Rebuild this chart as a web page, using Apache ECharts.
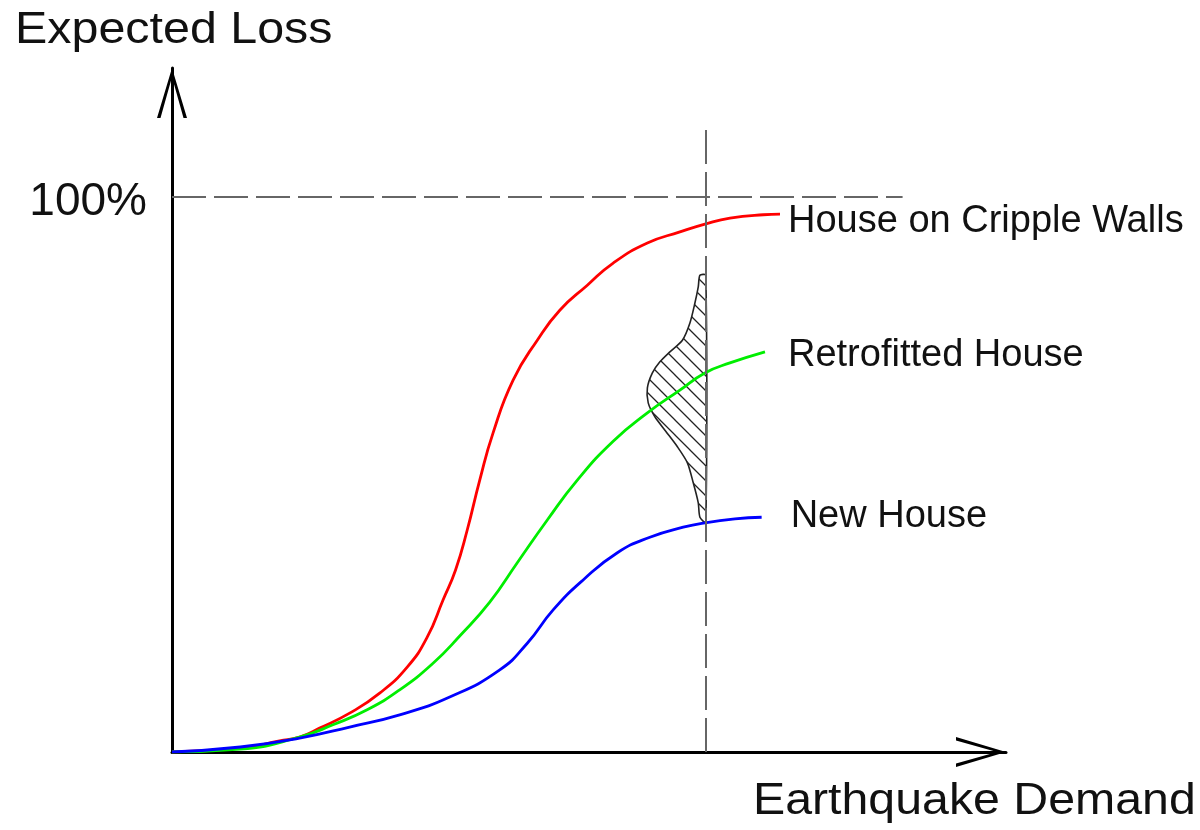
<!DOCTYPE html>
<html>
<head>
<meta charset="utf-8">
<title>Expected Loss vs Earthquake Demand</title>
<script src="https://cdn.jsdelivr.net/npm/echarts@6/dist/echarts.min.js"></script>
<style>
  html, body { margin: 0; padding: 0; background: #fff; }
  #chart { width: 1200px; height: 830px; }
</style>
</head>
<body>
<div id="chart"></div>
<script>
  // curves (x = demand 0..100, y = loss %)
  const crippleX = [0, 8.2, 12.9, 15.3, 17.7, 21.3, 24.9, 28.2, 30.6, 32.5, 34.0, 35.4, 36.9, 38.5, 40.9, 43.8, 46.5, 49.8, 52.9, 57.0, 60.9, 63.9, 66.9, 70.9, 72.9]
  const crippleY = [0, 0.7, 2.0, 2.7, 4.3, 7.0, 10.6, 15.3, 20.7, 27.4, 32.8, 40.0, 49.0, 57.5, 67.0, 74.2, 79.6, 84.1, 88.1, 91.7, 93.7, 95.1, 96.2, 96.8, 96.9]

  const retroX = [0, 8.2, 15.3, 19.3, 23.4, 27.3, 31.3, 34.5, 38.1, 41.4, 45.0, 48.6, 52.9, 57.0, 60.9, 63.9, 66.9, 71.1]
  const retroY = [0, 0.5, 2.7, 4.9, 7.6, 11.2, 16.0, 20.9, 27.0, 34.1, 41.8, 49.0, 56.0, 61.1, 65.2, 68.3, 70.1, 72.1]

  const newX = [0, 8.2, 15.3, 21.3, 27.3, 33.3, 39.3, 42.6, 45.7, 49.3, 53.4, 57.3, 61.3, 63.9, 67.5, 70.7]
  const newY = [0, 0.9, 2.5, 4.5, 6.7, 9.9, 14.8, 19.6, 25.6, 31.0, 35.9, 38.7, 40.5, 41.3, 42.0, 42.3]

  // spread of loss at the chosen demand (hatched bell)
  const bellX = [64, 63.3, 63.1, 62.7, 62.1, 61.2, 59.7, 58.5, 57.6, 57.0, 57.1, 57.9, 59.2, 60.6, 61.8, 62.5, 63.1, 63.3, 64]
  const bellY = [85.9, 85.9, 83.8, 80.9, 77.3, 74.2, 72.1, 70.3, 68.3, 65.6, 62.9, 60.4, 57.8, 55.0, 52.1, 48.5, 44.9, 42.3, 41.4]

  const seriesNames = ['House on Cripple Walls', 'Retrofitted House', 'New House']
  const fullLoss = 100
  const demandMark = 64
  const fullLossEnd = 87.6
  const demandTop = 112.1

  const font = 'Liberation Sans, Arial, sans-serif'

  const toPairs = (xs, ys) => xs.map((x, i) => [x, ys[i]])

  // diagonal hatch pattern
  function hatch(s) {
    const c = document.createElement('canvas')
    c.width = s
    c.height = s
    const g = c.getContext('2d')
    g.strokeStyle = '#222'
    g.lineWidth = 1.3
    g.beginPath()
    g.moveTo(-2, -2); g.lineTo(s + 2, s + 2)
    g.moveTo(-2, s - 2); g.lineTo(2, s + 2)
    g.moveTo(s - 2, -2); g.lineTo(s + 2, 2)
    g.stroke()
    return c
  }

  // open arrow head, tip up
  const arrowPath = 'path://M15,0 L30,50 L26.5,50 L15,9 L3.5,50 L0,50 Z'

  const chart = echarts.init(document.getElementById('chart'))

  const curve = (name, xs, ys, color, offset) => ({
    name: name,
    type: 'line',
    data: toPairs(xs, ys),
    smooth: 0.5,
    showSymbol: false,
    z: 3,
    lineStyle: { color: color, width: 2.8 },
    endLabel: {
      show: true,
      formatter: '{a}',
      distance: 0,
      offset: offset,
      fontSize: 38,
      fontFamily: font,
      color: '#111'
    }
  })

  chart.setOption({
    backgroundColor: '#fff',
    animation: false,
    grid: { left: 172, top: 68, width: 834, height: 684 },
    xAxis: {
      type: 'value',
      min: 0,
      max: 100,
      splitLine: { show: false },
      axisTick: { show: false },
      axisLabel: { show: false },
      axisLine: {
        lineStyle: { color: '#000', width: 3 },
        symbol: ['none', arrowPath],
        symbolSize: [32, 50],
        symbolOffset: [0, -25]
      }
    },
    yAxis: {
      type: 'value',
      min: 0,
      max: 123.24,
      interval: 100,
      splitLine: { show: false },
      axisTick: { show: false },
      axisLabel: {
        showMaxLabel: false,
        formatter: v => (v === fullLoss ? '{p|' + fullLoss + '%}' : ''),
        margin: 25,
        rich: {
          p: { fontSize: 46, fontFamily: font, color: '#111', padding: [10, 0, 0, 0] }
        }
      },
      axisLine: {
        lineStyle: { color: '#000', width: 3 },
        symbol: ['none', arrowPath],
        symbolSize: [30, 50],
        symbolOffset: [0, -25]
      }
    },
    graphic: [
      {
        type: 'text', x: 15, y: 31, scaleX: 1.1,
        style: { text: 'Expected Loss', font: '44px ' + font, fill: '#111', verticalAlign: 'middle', align: 'left' }
      },
      {
        type: 'text', x: 753, y: 802, scaleX: 1.097,
        style: { text: 'Earthquake Demand', font: '44px ' + font, fill: '#111', verticalAlign: 'middle', align: 'left' }
      }
    ],
    series: [
      {
        name: 'guides',
        type: 'line',
        data: [],
        z: 1,
        markLine: {
          silent: true,
          symbol: ['none', 'none'],
          label: { show: false },
          lineStyle: { color: '#666', width: 2, type: [34, 8] },
          data: [
            [{ coord: [0, fullLoss] }, { coord: [fullLossEnd, fullLoss] }],
            [{ coord: [demandMark, 0] }, { coord: [demandMark, demandTop] }]
          ]
        }
      },
      {
        name: 'spread',
        type: 'custom',
        z: 2,
        data: toPairs(bellX, bellY),
        renderItem: (params, api) => {
          if (params.dataIndex !== 0) return
          const pts = toPairs(bellX, bellY).map(p => api.coord(p))
          return {
            type: 'polygon',
            shape: { points: pts, smooth: 0.25 },
            style: {
              fill: { image: hatch(15), repeat: 'repeat' },
              stroke: '#222',
              lineWidth: 1.6
            }
          }
        }
      },
      curve(seriesNames[0], crippleX, crippleY, '#ff0000', [8, 7]),
      curve(seriesNames[1], retroX, retroY, '#00ee00', [23, 4]),
      curve(seriesNames[2], newX, newY, '#0000ff', [29, -1])
    ]
  })
</script>
</body>
</html>
